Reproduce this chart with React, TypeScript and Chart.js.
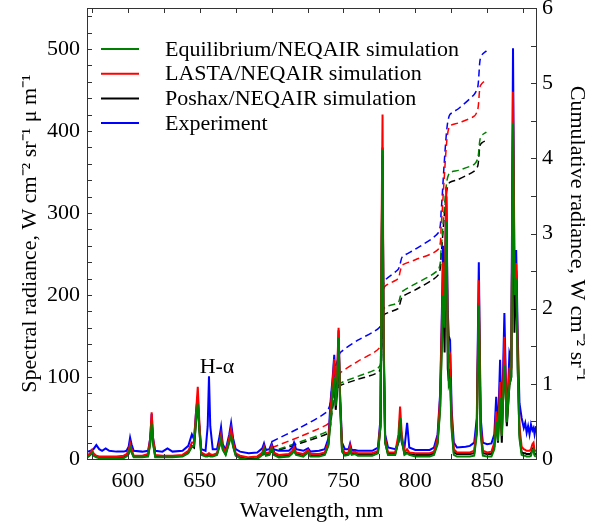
import React, { useEffect, useRef } from "react";
import { Chart, registerables } from "chart.js";

Chart.register(...registerables);

// ---------- DATA ----------
const wavelengths = [
  572, 574, 575, 576, 578, 580, 582, 584.5, 587, 592, 597, 599, 600.5, 601.5, 602.5, 604, 610, 614,
  615.5, 616.5, 617.5, 619, 624, 627.5, 631, 638, 642, 644.5, 646, 647.5, 648.6, 649.7, 651, 654,
  655.5, 656.4, 657.3, 659, 662, 663.8, 664.8, 666, 668, 670.5, 671.8, 673.2, 675, 678, 684, 690,
  693.5, 694.7, 696, 698.5, 700, 701.3, 705, 712, 714.5, 715.6, 717, 722, 725.4, 727, 733, 737,
  739.5, 741, 742.5, 743.6, 744.6, 745.5, 746.6, 747.6, 749, 751, 753.5, 754.6, 755.7, 758, 760,
  770, 774, 775.8, 776.6, 777.2, 777.9, 779, 781, 786, 788.3, 789.4, 790.6, 792.5, 794.3, 795.8,
  800, 810, 813, 815.5, 817.3, 818.5, 819.3, 820.4, 821.5, 822.6, 823.3, 824.2, 825.3, 826.8, 829,
  835, 838, 841, 842.8, 844.2, 845.5, 847, 850, 853, 855, 856.3, 857.5, 859, 860.2, 862, 863.7,
  865.5, 866.8, 868, 869, 870.2, 871.3, 872.5, 874, 875.5, 876.5, 877.5, 878.5, 879.5, 880.5,
  881.5, 882.3, 883, 884,
];

const experiment = [
  9, 10, 11, 12, 17, 12, 10, 13, 10, 9, 9, 10, 15, 26, 18, 10, 9, 10,
  25, 55, 25, 10, 9, 13, 9, 10, 16, 30, 24, 60, 76, 40, 12, 10,
  40, 101, 40, 12, 12, 28, 39, 18, 11, 30, 44, 25, 12, 9, 7, 8,
  13, 19, 11, 12, 19, 12, 10, 10, 14, 20, 12, 10, 13, 9, 10, 12,
  25, 70, 100, 127, 70, 90, 157, 80, 20, 12, 12, 19, 11, 11, 10,
  10, 14, 50, 250, 370, 150, 30, 14, 12, 20, 45, 20, 14, 44, 14,
  11, 11, 14, 30, 80, 180, 260, 170, 320, 180, 150, 145, 60, 20, 14,
  15, 16, 20, 50, 240, 50, 20, 18, 19, 30, 76, 32, 121, 40, 178, 44,
  129, 120, 501, 230, 255, 150, 68, 50, 38, 44, 32, 40, 30, 42,
  35, 38, 30, 40,
];

const lasta = [
  4, 8, 11, 7, 4, 3, 3, 3, 3, 3, 4, 6, 10, 19, 12, 4, 4, 6,
  25, 57, 25, 5, 4, 4, 4, 5, 10, 20, 20, 60, 88, 45, 8, 5,
  6, 7, 6, 5, 7, 20, 30, 15, 8, 26, 37, 20, 7, 4, 2, 3,
  8, 15, 7, 8, 16, 8, 5, 6, 10, 14, 8, 6, 11, 6, 6, 8,
  20, 60, 95, 122, 95, 100, 160, 80, 14, 7, 8, 16, 8, 9, 7,
  7, 10, 45, 300, 420, 160, 25, 8, 8, 30, 64, 30, 8, 12, 8,
  7, 7, 9, 25, 75, 170, 240, 180, 332, 150, 120, 125, 50, 12, 8,
  8, 8, 10, 40, 218, 40, 10, 8, 9, 20, 58, 28, 94, 30, 149, 48,
  110, 110, 448, 220, 239, 130, 40, 15, 12, 11, 10, 10, 10, 12,
  18, 20, 10, 10,
];

const poshax = [
  3, 6, 9, 5, 3, 2, 2, 2, 2, 2, 2, 4, 7, 15, 9, 3, 3, 4,
  20, 46, 20, 3, 3, 3, 3, 4, 8, 16, 14, 48, 70, 36, 6, 4,
  4, 5, 4, 4, 6, 17, 26, 12, 6, 22, 29, 16, 5, 2, 0, 1,
  6, 12, 5, 6, 13, 6, 3, 4, 8, 11, 6, 4, 9, 4, 4, 6,
  18, 50, 80, 100, 60, 80, 145, 70, 10, 5, 6, 12, 6, 7, 5,
  5, 8, 40, 270, 380, 140, 20, 6, 6, 22, 50, 22, 6, 8, 6,
  5, 5, 7, 20, 65, 150, 210, 130, 320, 110, 95, 110, 40, 8, 6,
  6, 6, 7, 35, 190, 35, 7, 6, 6, 15, 48, 20, 80, 20, 130, 40,
  90, 100, 415, 154, 230, 110, 30, 8, 7, 7, 6, 6, 6, 7,
  12, 14, 6, 6,
];

const equilibrium = [
  2, 5, 8, 4, 2, 1, 1, 1, 1, 1, 1, 3, 6, 14, 8, 2, 2, 3,
  18, 44, 18, 2, 2, 2, 2, 3, 7, 15, 16, 50, 68, 35, 5, 3,
  3, 4, 3, 3, 5, 16, 25, 11, 5, 20, 28, 15, 4, 1, -1, 0,
  5, 12, 4, 5, 13, 5, 2, 3, 7, 10, 5, 3, 8, 3, 3, 5,
  16, 45, 78, 100, 65, 85, 148, 70, 9, 4, 5, 11, 5, 6, 4,
  4, 7, 40, 260, 377, 140, 20, 5, 5, 22, 50, 22, 5, 7, 5,
  3, 3, 5, 18, 60, 140, 200, 160, 290, 140, 90, 95, 35, 5, 3,
  3, 3, 4, 30, 188, 30, 4, 3, 3, 12, 45, 22, 75, 28, 115, 45,
  90, 100, 410, 200, 220, 110, 25, 5, 4, 4, 3, 3, 3, 4,
  11, 12, 4, 3,
];

// cumulative radiance (right axis)
const cumWavelengths = [
  683, 700, 720, 738, 740.5, 742, 744, 746, 748, 760, 775, 776.5, 777.5, 779, 788, 789.5, 791,
  800, 816, 818, 820, 822, 824, 830, 841, 843.5, 845, 846.5, 849.5,
];
const cumExperiment = [
  null, 0.23, 0.42, 0.62, 0.72, 0.95, 1.2, 1.32, 1.42, 1.58, 1.75, 1.95, 2.3, 2.38, 2.52, 2.6, 2.69,
  2.79, 3.01, 3.3, 3.9, 4.4, 4.58, 4.66, 4.85, 4.95, 5.3, 5.38, 5.43,
];
const cumLasta = [
  null, 0.15, 0.3, 0.45, 0.5, 0.75, 0.98, 1.08, 1.15, 1.3, 1.48, 1.8, 2.22, 2.3, 2.4, 2.5, 2.58,
  2.65, 2.79, 3.1, 3.7, 4.25, 4.43, 4.47, 4.56, 4.65, 4.95, 5.0, 5.04,
];
const cumEquilibrium = [
  0, 0.1, 0.23, 0.36, 0.42, 0.65, 0.88, 0.96, 1.01, 1.1, 1.23, 1.55, 1.96, 2.02, 2.08, 2.16, 2.23,
  2.33, 2.52, 2.8, 3.3, 3.7, 3.81, 3.84, 3.92, 4.0, 4.25, 4.31, 4.35,
];
const cumPoshax = [
  0, 0.09, 0.21, 0.33, 0.39, 0.62, 0.85, 0.93, 0.98, 1.06, 1.17, 1.47, 1.88, 1.93, 2.0, 2.08, 2.16,
  2.25, 2.45, 2.72, 3.2, 3.58, 3.68, 3.72, 3.83, 3.9, 4.17, 4.21, 4.24,
];

const seriesLabels = [
  "Equilibrium/NEQAIR simulation",
  "LASTA/NEQAIR simulation",
  "Poshax/NEQAIR simulation",
  "Experiment",
];

const xTickLabels = [600, 650, 700, 750, 800, 850];
const yTickLabels = [0, 100, 200, 300, 400, 500];
const y2TickLabels = [0, 1, 2, 3, 4, 5, 6];

const annotationText = "H-α";
const annotationAt = { x: 662, y: 112 };

// ---------- STYLE ----------
const GREEN = "#008000";
const RED = "#ff0000";
const BLACK = "#000000";
const BLUE = "#0000ff";
const FONT = "'Liberation Serif', 'Times New Roman', serif";
const FS = 22;

const pts = (xs: number[], ys: (number | null)[]) => xs.map((x, i) => ({ x, y: ys[i] }));

const frameAndTicks = {
  id: "frameAndTicks",
  afterDraw(chart: any) {
    const { ctx, chartArea: a, scales } = chart;
    ctx.save();
    ctx.strokeStyle = "#333";
    ctx.lineWidth = 1;
    ctx.strokeRect(Math.round(a.left) + 0.5, Math.round(a.top) + 0.5, Math.round(a.right - a.left), Math.round(a.bottom - a.top));
    const L = 5;
    scales.x.ticks.forEach((t: any) => {
      const px = Math.round(scales.x.getPixelForValue(t.value)) + 0.5;
      ctx.beginPath();
      ctx.moveTo(px, a.bottom);
      ctx.lineTo(px, a.bottom - L);
      ctx.moveTo(px, a.top);
      ctx.lineTo(px, a.top + L);
      ctx.stroke();
    });
    scales.y.ticks.forEach((t: any) => {
      const py = Math.round(scales.y.getPixelForValue(t.value)) + 0.5;
      ctx.beginPath();
      ctx.moveTo(a.left, py);
      ctx.lineTo(a.left + L, py);
      ctx.stroke();
    });
    scales.y2.ticks.forEach((t: any) => {
      const py = Math.round(scales.y2.getPixelForValue(t.value)) + 0.5;
      ctx.beginPath();
      ctx.moveTo(a.right, py);
      ctx.lineTo(a.right - L, py);
      ctx.stroke();
    });
    // annotation
    ctx.fillStyle = "#000";
    ctx.font = `${FS}px ${FONT}`;
    ctx.textAlign = "center";
    ctx.textBaseline = "middle";
    ctx.fillText(annotationText, scales.x.getPixelForValue(annotationAt.x), scales.y.getPixelForValue(annotationAt.y));
    // legend
    const items = chart.data.datasets.filter((d: any) => d.inLegend);
    items.forEach((d: any, i: number) => {
      const y = a.top + 41 + i * 24.7;
      ctx.strokeStyle = d.borderColor;
      ctx.lineWidth = 2;
      ctx.beginPath();
      ctx.moveTo(a.left + 14, y);
      ctx.lineTo(a.left + 52, y);
      ctx.stroke();
      ctx.fillStyle = "#000";
      ctx.textAlign = "left";
      ctx.font = `${FS}px ${FONT}`;
      ctx.fillText(d.label, a.left + 78, y + 1);
    });
    ctx.restore();
  },
};

export default function App() {
  const ref = useRef<HTMLCanvasElement>(null);
  useEffect(() => {
    if (!ref.current) return;
    const solid = (label: string, data: number[], color: string) => ({
      label,
      data: pts(wavelengths, data),
      borderColor: color,
      backgroundColor: color,
      borderWidth: 2,
      pointRadius: 0,
      tension: 0,
      yAxisID: "y",
      inLegend: true,
    });
    const dashed = (label: string, data: (number | null)[], color: string) => ({
      label,
      data: pts(cumWavelengths, data),
      borderColor: color,
      backgroundColor: color,
      borderWidth: 1.5,
      borderDash: [7, 4],
      pointRadius: 0,
      tension: 0.25,
      yAxisID: "y2",
      inLegend: false,
    });
    const noPad = (s: any) => { s.paddingTop = 0; s.paddingBottom = 0; };
    const chart = new Chart(ref.current, {
      type: "line",
      data: {
        datasets: [
          solid(seriesLabels[0], equilibrium, GREEN),
          solid(seriesLabels[1], lasta, RED),
          solid(seriesLabels[2], poshax, BLACK),
          solid(seriesLabels[3], experiment, BLUE),
          dashed(seriesLabels[0] + " cumulative", cumEquilibrium, GREEN),
          dashed(seriesLabels[1] + " cumulative", cumLasta, RED),
          dashed(seriesLabels[2] + " cumulative", cumPoshax, BLACK),
          dashed(seriesLabels[3] + " cumulative", cumExperiment, BLUE),
        ] as any,
      },
      options: {
        responsive: false,
        animation: false,
        layout: { padding: { top: 8, left: 0, right: 0, bottom: 0 } },
        plugins: { legend: { display: false }, tooltip: { enabled: false } },
        scales: {
          x: {
            type: "linear",
            min: 571.5,
            max: 884,
            afterBuildTicks: (s: any) => {
              const t = [];
              for (let v = 575; v <= 884; v += 25) t.push({ value: v });
              s.ticks = t;
            },
            afterFit: (s: any) => { s.height = 68; s.paddingLeft = 0; s.paddingRight = 0; },
            grid: { display: false, drawTicks: false },
            border: { display: false },
            ticks: {
              autoSkip: false,
              maxRotation: 0,
              padding: 9,
              color: "#000",
              font: { family: FONT, size: FS },
              callback: (v: any) => (xTickLabels.includes(Number(v)) ? String(v) : ""),
            },
            title: {
              display: true,
              text: "Wavelength, nm",
              color: "#000",
              font: { family: FONT, size: FS },
              padding: { top: 4, bottom: 3 },
            },
          },
          y: {
            type: "linear",
            position: "left",
            min: 0,
            max: 550,
            afterBuildTicks: (s: any) => {
              const t = [];
              for (let v = 0; v <= 540; v += 20) t.push({ value: v });
              s.ticks = t;
            },
            afterFit: (s: any) => { s.width = 87; noPad(s); },
            grid: { display: false, drawTicks: false },
            border: { display: false },
            ticks: {
              autoSkip: false,
              padding: 7,
              color: "#000",
              font: { family: FONT, size: FS },
              callback: (v: any) => (yTickLabels.includes(Number(v)) ? String(v) : ""),
            },
            title: {
              display: true,
              text: "Spectral radiance, W cm\u207B\u00B2 sr\u207B\u00B9 \u03BC m\u207B\u00B9",
              color: "#000",
              font: { family: FONT, size: FS },
              padding: { top: 17, bottom: 0 },
            },
          },
          y2: {
            type: "linear",
            position: "right",
            min: 0,
            max: 6,
            afterBuildTicks: (s: any) => {
              const t = [];
              for (let v = 0; v <= 6; v += 0.5) t.push({ value: v });
              s.ticks = t;
            },
            afterFit: (s: any) => { s.width = 56; noPad(s); },
            grid: { display: false, drawTicks: false },
            border: { display: false },
            ticks: {
              autoSkip: false,
              padding: 6,
              color: "#000",
              font: { family: FONT, size: FS },
              callback: (v: any) => (y2TickLabels.includes(Number(v)) ? String(v) : ""),
            },
            title: {
              display: true,
              text: "Cumulative radiance, W cm\u207B\u00B2 sr\u207B\u00B9",
              color: "#000",
              font: { family: FONT, size: FS },
              padding: { top: 2, bottom: 0 },
            },
          },
        },
      },
      plugins: [frameAndTicks],
    } as any);
    return () => chart.destroy();
  }, []);
  return (
    <div style={{ position: "absolute", left: 0, top: 0, width: 592, height: 527, background: "#fff" }}>
      <canvas ref={ref} width={592} height={527} style={{ display: "block" }} />
    </div>
  );
}
